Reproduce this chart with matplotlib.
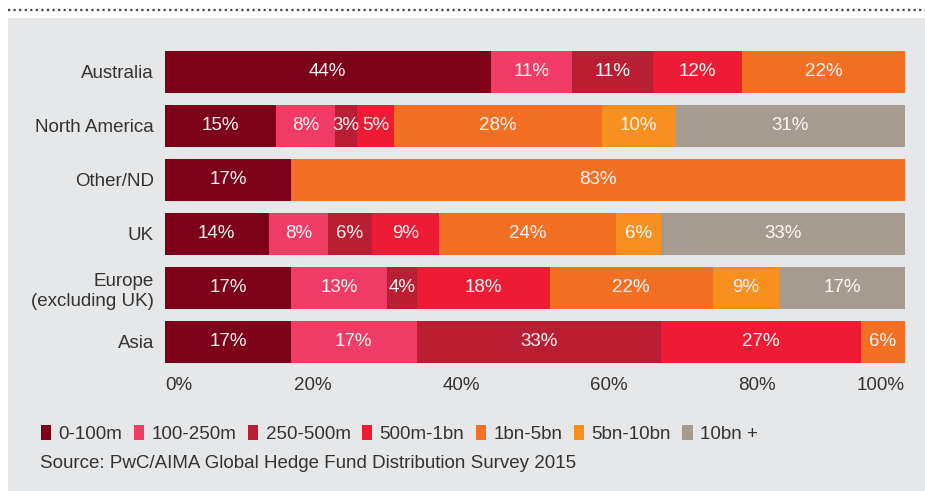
import matplotlib.pyplot as plt
from matplotlib.patches import Patch, Rectangle
from matplotlib.lines import Line2D
import numpy as np

plt.rcParams['font.family'] = ['Liberation Sans', 'DejaVu Sans']

# Regions, top to bottom
regions = ["Australia", "North America", "Other/ND", "UK", "Europe\n(excluding UK)", "Asia"]

# Share of assets by fund size band (%)
size_bands = ["0-100m", "100-250m", "250-500m", "500m-1bn", "1bn-5bn", "5bn-10bn", "10bn +"]
band_0_100m = [44, 15, 17, 14, 17, 17]
band_100_250m = [11, 8, 0, 8, 13, 17]
band_250_500m = [11, 3, 0, 6, 4, 33]
band_500m_1bn = [12, 5, 0, 9, 18, 27]
band_1bn_5bn = [22, 28, 83, 24, 22, 6]
band_5bn_10bn = [0, 10, 0, 6, 9, 0]
band_10bn_plus = [0, 31, 0, 33, 17, 0]

series = [band_0_100m, band_100_250m, band_250_500m, band_500m_1bn,
          band_1bn_5bn, band_5bn_10bn, band_10bn_plus]
colors = ["#7d0019", "#f03c64", "#b91e32", "#ee1b35", "#f36f24", "#f7901e", "#a69b91"]

xticks = [0, 20, 40, 60, 80, 100]
xtick_labels = ["0%", "20%", "40%", "60%", "80%", "100%"]

bg = "#e6e7e9"
text_col = "#333333"
fs = 13.5

fig = plt.figure(figsize=(9.25, 4.91), dpi=100)
fig.patch.set_facecolor("white")

# grey panel and dotted rule on top
fig.patches.append(Rectangle((8 / 925, 0), 1, (491 - 18) / 491, transform=fig.transFigure,
                             facecolor=bg, edgecolor="none", zorder=-1))
fig.lines.append(Line2D([8 / 925, 1], [1 - 10 / 491] * 2, transform=fig.transFigure,
                        color="#444444", linestyle=(0, (1, 1.5)), linewidth=1.6))

ax = fig.add_axes([165 / 925, (491 - 369) / 491, 740 / 925, 324 / 491])
ax.set_facecolor(bg)
ax.patch.set_alpha(0)

y = np.arange(len(regions))
left = np.zeros(len(regions))
for vals, col in zip(series, colors):
    vals = np.array(vals, dtype=float)
    bars = ax.barh(y, vals, left=left, height=0.78, color=col, edgecolor="none")
    labels = [f"{int(v)}%" if v > 0 else "" for v in vals]
    ax.bar_label(bars, labels=labels, label_type="center", color="#fbf6f6", fontsize=fs)
    left += vals

ax.set_xlim(0, 100)
ax.set_ylim(len(regions) - 0.5, -0.5)
ax.set_yticks(y)
ax.set_yticklabels(regions, fontsize=fs, color=text_col, linespacing=1.25)
ax.set_xticks(xticks)
ax.set_xticklabels(xtick_labels, fontsize=fs, color=text_col)
tl = ax.get_xticklabels()
tl[0].set_ha("left")
tl[-1].set_ha("right")
ax.tick_params(axis="both", length=0)
ax.tick_params(axis="y", pad=8)
ax.tick_params(axis="x", pad=6)
for s in ax.spines.values():
    s.set_visible(False)

handles = [Patch(facecolor=c, edgecolor="none") for c in colors]
fig.legend(handles, size_bands, loc="center left", bbox_to_anchor=(24 / 925, (491 - 434) / 491),
           ncol=7, frameon=False, fontsize=fs, handlelength=0.55, handleheight=0.8,
           handletextpad=0.4, columnspacing=0.6, labelcolor=text_col)

fig.text(40 / 925, (491 - 463) / 491, "Source: PwC/AIMA Global Hedge Fund Distribution Survey 2015",
         fontsize=fs, color=text_col, va="center", ha="left")

fig.savefig("out.png", dpi=100, facecolor=fig.get_facecolor())
